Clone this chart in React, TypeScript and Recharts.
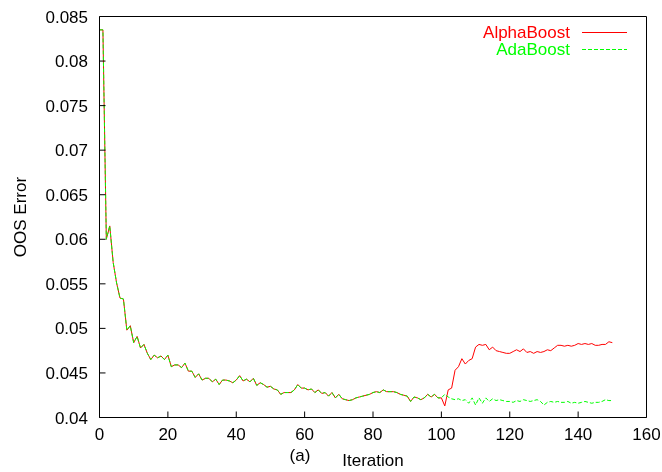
import React from "react";
import { LineChart, Line, XAxis, YAxis, Legend, Label } from "recharts";

// OOS error per boosting iteration.
// Both methods coincide up to iteration 100.
const sharedError = [
  0.0835, 0.0835, 0.06, 0.0615, 0.0574, 0.0551, 0.0534, 0.0533, 0.0498, 0.0503,
  0.0484, 0.0491, 0.0478, 0.0482, 0.0472, 0.0465, 0.047, 0.0467, 0.0469, 0.0465,
  0.047, 0.0457, 0.0459, 0.0459, 0.0456, 0.0461, 0.0452, 0.0452, 0.0445, 0.0449,
  0.0442, 0.0444, 0.0444, 0.044, 0.0443, 0.0437, 0.0442, 0.0442, 0.0441, 0.0439,
  0.0442, 0.0447, 0.0441, 0.0443, 0.044, 0.0444, 0.0436, 0.0439, 0.0437, 0.0434,
  0.0435, 0.0432, 0.0431, 0.0426, 0.0428, 0.0428, 0.0428, 0.0431, 0.0437, 0.0433,
  0.0433, 0.0431, 0.0432, 0.0428, 0.0431, 0.0427, 0.0428, 0.0424, 0.0428, 0.0422,
  0.0426, 0.0421, 0.042, 0.0419, 0.042, 0.0422, 0.0423, 0.0424, 0.0425, 0.0426,
  0.0428, 0.0429, 0.0428, 0.0431, 0.0429, 0.0429, 0.0429, 0.0428, 0.0426, 0.0425,
  0.0424, 0.0418, 0.0423, 0.0422, 0.042, 0.0422, 0.0426, 0.0423, 0.0426, 0.0422,
  0.0422,
];

// iterations 101..150
const alphaTail = [
  0.0413, 0.0431, 0.0433, 0.0453, 0.0457, 0.0466, 0.046, 0.0464, 0.0466, 0.0479,
  0.0482, 0.0481, 0.0482, 0.0476, 0.0479, 0.0475, 0.0474, 0.0473, 0.0472, 0.0472,
  0.0474, 0.0476, 0.0474, 0.0477, 0.0473, 0.0474, 0.0472, 0.0474, 0.0473, 0.0474,
  0.0476, 0.0475, 0.0478, 0.0481, 0.0481, 0.048, 0.0481, 0.048, 0.0481, 0.0483,
  0.0482, 0.0483, 0.0482, 0.0483, 0.0481, 0.0481, 0.0482, 0.0482, 0.0485, 0.0484,
];

const adaTail = [
  0.0426, 0.0423, 0.0421, 0.042, 0.0421, 0.0419, 0.042, 0.0416, 0.0422, 0.0414,
  0.0422, 0.0416, 0.0422, 0.0418, 0.0421, 0.0419, 0.042, 0.0419, 0.0418, 0.0418,
  0.0417, 0.0419, 0.0418, 0.042, 0.0419, 0.0418, 0.0419, 0.042, 0.0418, 0.0414,
  0.0417, 0.0418, 0.0417, 0.0418, 0.0417, 0.0417, 0.0418, 0.0416, 0.0417, 0.0416,
  0.0417, 0.0418, 0.0417, 0.0416, 0.0417, 0.0417, 0.0418, 0.042, 0.0419, 0.0419,
];

const xTicks = [0, 20, 40, 60, 80, 100, 120, 140, 160];
const yTicks = [0.04, 0.045, 0.05, 0.055, 0.06, 0.065, 0.07, 0.075, 0.08, 0.085];

// AdaBoost is plotted against the mirrored top/right axes (same ranges),
// which also makes gnuplot-style border ticks appear there.
const series = [
  { key: "alpha", name: "AlphaBoost", color: "#ff0000", dash: undefined, xId: 0, yId: 0 },
  { key: "ada", name: "AdaBoost", color: "#00ff00", dash: "4 2", xId: "top", yId: "right" },
];

const alphaError = [...sharedError, ...alphaTail];
const adaError = [...sharedError, ...adaTail];
const rows = alphaError.map((v, i) => ({ iter: i, alpha: v, ada: adaError[i] }));

const FONT = "'Liberation Sans', Arial, Helvetica, sans-serif";
const tickStyle = { fill: "#000", fontSize: 17, fontFamily: FONT };

const renderLegend = () => (
  <svg width={190} height={45} style={{ display: "block" }}>
    {series.map((s, i) => {
      const cy = 8.7 + i * 17.3;
      return (
        <g key={s.key}>
          <text
            x={122}
            y={cy + 6}
            textAnchor="end"
            fill={s.color}
            fontSize={17}
            fontFamily={FONT}
          >
            {s.name}
          </text>
          <line
            x1={134}
            x2={179}
            y1={Math.round(cy) + 0.5}
            y2={Math.round(cy) + 0.5}
            stroke={s.color}
            strokeWidth={1}
            strokeDasharray={s.dash}
          />
        </g>
      );
    })}
  </svg>
);

const fmt = (v: number) => String(+v.toFixed(3));

export default function App() {
  return (
    <div style={{ position: "fixed", left: 8, top: 8, width: 654, height: 464 }}>
      <LineChart
        width={654}
        height={464}
        data={rows}
        margin={{ top: 7.5, right: 14.5, bottom: 0, left: 0 }}
      >
        <XAxis
          dataKey="iter"
          type="number"
          domain={[0, 160]}
          ticks={xTicks}
          interval={0}
          height={54.5}
          tickSize={-6}
          tickMargin={16}
          stroke="#000"
          tick={tickStyle}
        >
          <Label
            value="Iteration"
            position="insideBottom"
            offset={6}
            fill="#000"
            fontSize={17}
            fontFamily={FONT}
          />
          <Label
            content={() => (
              <text
                x={292}
                y={453}
                textAnchor="middle"
                fill="#000"
                fontSize={17}
                fontFamily={FONT}
              >
                (a)
              </text>
            )}
          />
        </XAxis>
        <XAxis
          xAxisId="top"
          orientation="top"
          dataKey="iter"
          type="number"
          domain={[0, 160]}
          ticks={xTicks}
          interval={0}
          height={1}
          tickSize={-6}
          tick={false}
          stroke="#000"
        />
        <YAxis
          type="number"
          domain={[0.04, 0.085]}
          ticks={yTicks}
          interval={0}
          width={91.5}
          tickSize={-6}
          tickMargin={17.5}
          tickFormatter={fmt}
          stroke="#000"
          tick={tickStyle}
        >
          <Label
            content={() => (
              <text
                x={18}
                y={209}
                transform="rotate(-90, 18, 209)"
                textAnchor="middle"
                fill="#000"
                fontSize={17}
                fontFamily={FONT}
              >
                OOS Error
              </text>
            )}
          />
        </YAxis>
        <YAxis
          yAxisId="right"
          orientation="right"
          type="number"
          domain={[0.04, 0.085]}
          ticks={yTicks}
          interval={0}
          width={1}
          tickSize={-6}
          tick={false}
          stroke="#000"
        />
        <Legend
          layout="vertical"
          align="center"
          verticalAlign="middle"
          wrapperStyle={{ top: 15, left: 440, width: 190 }}
          content={renderLegend}
        />
        {series.map((s) => (
          <Line
            key={s.key}
            dataKey={s.key}
            name={s.name}
            xAxisId={s.xId}
            yAxisId={s.yId}
            type="linear"
            stroke={s.color}
            strokeWidth={1}
            strokeDasharray={s.dash}
            dot={false}
            activeDot={false}
            isAnimationActive={false}
          />
        ))}
      </LineChart>
    </div>
  );
}
